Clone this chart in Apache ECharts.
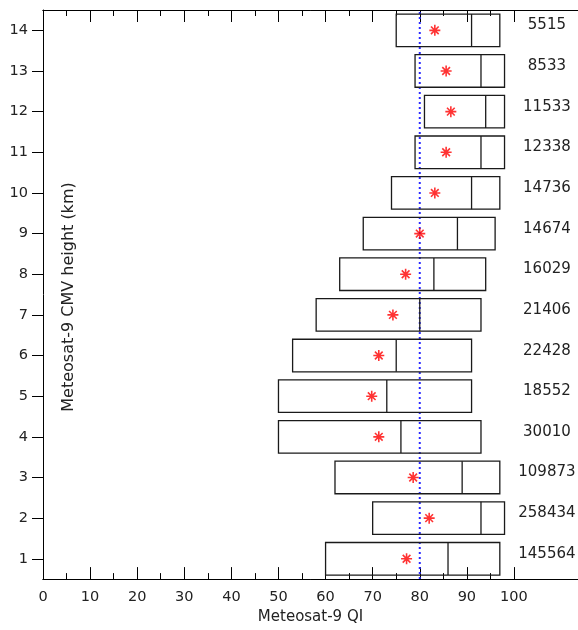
<!DOCTYPE html>
<html>
<head>
<meta charset="utf-8">
<script src="https://cdn.jsdelivr.net/npm/echarts@6/dist/echarts.min.js"></script>
<style>
html,body{margin:0;padding:0;background:#fff;}
#chart{width:578px;height:630px;}
</style>
</head>
<body>
<div id="chart"></div>
<script>
// ---- data ----
const heights   = [1, 2, 3, 4, 5, 6, 7, 8, 9, 10, 11, 12, 13, 14];
const boxLow    = [60, 70, 62, 50, 50, 53, 58, 63, 68, 74, 79, 81, 79, 75];
const boxMedian = [86, 93, 89, 76, 73, 75, 80, 83, 88, 91, 93, 94, 93, 91];
const boxHigh   = [97, 98, 97, 93, 91, 91, 93, 94, 96, 97, 98, 98, 98, 97];
const meanQI    = [77.2, 82, 78.6, 71.3, 69.8, 71.3, 74.3, 77, 80, 83.2, 85.6, 86.6, 85.6, 83.2];
const counts    = [145564, 258434, 109873, 30010, 18552, 22428, 21406, 16029, 14674, 14736, 12338, 11533, 8533, 5515];
const xMajorTicks = [0, 10, 20, 30, 40, 50, 60, 70, 80, 90, 100];
const xMinorTicks = [5, 15, 25, 35, 45, 55, 65, 75, 85, 95];
const yTicks      = [1, 2, 3, 4, 5, 6, 7, 8, 9, 10, 11, 12, 13, 14];
const refLineQI   = 80;

// ---- layout constants ----
const BOX_HALF = 0.4;
const COUNT_X = 107;
const X_MAX = 113.6;
const FONT = 'DejaVu Sans';
const INK = '#222';

const chart = echarts.init(document.getElementById('chart'), null, {renderer: 'canvas'});

function xAxisDef(pos, ticks, len, showLabel) {
  return {
    type: 'value', position: pos, min: 0, max: X_MAX,
    axisLine: {show: true, onZero: false, lineStyle: {color: '#000', width: 1}},
    axisTick: {show: true, inside: true, length: len, customValues: ticks, lineStyle: {color: '#000', width: 1}},
    axisLabel: showLabel ? {show: true, customValues: ticks, margin: 11, fontFamily: FONT, fontSize: 14.5, color: INK} : {show: false},
    splitLine: {show: false}
  };
}

const option = {
  animation: false,
  backgroundColor: '#fff',
  grid: {left: 43, top: 10, right: 0, bottom: 48.7, containLabel: false},
  xAxis: [
    Object.assign(xAxisDef('bottom', xMajorTicks, 12, true), {
      name: 'Meteosat-9 QI', nameLocation: 'middle', nameGap: 29,
      nameTextStyle: {fontFamily: FONT, fontSize: 15, color: INK}
    }),
    xAxisDef('bottom', xMinorTicks, 6, false),
    xAxisDef('top', xMajorTicks, 12, false),
    xAxisDef('top', xMinorTicks, 6, false)
  ],
  yAxis: [{
    type: 'value', min: 0.5, max: 14.5,
    axisLine: {show: true, onZero: false, lineStyle: {color: '#000', width: 1}},
    axisTick: {show: true, inside: false, length: 11, customValues: yTicks, lineStyle: {color: '#000', width: 1}},
    axisLabel: {show: true, customValues: yTicks, margin: 15, fontFamily: FONT, fontSize: 14.5, color: INK},
    splitLine: {show: false}
  }],
  graphic: [{
    type: 'text', x: 69, y: 297, rotation: Math.PI / 2,
    style: {text: 'Meteosat-9 CMV height (km)', fontFamily: FONT, fontSize: 16, fill: INK,
            align: 'center', verticalAlign: 'middle'}
  }],
  series: [
    {
      type: 'line', xAxisIndex: 0, yAxisIndex: 0, symbol: 'none', z: 1,
      data: [[refLineQI, 0.5], [refLineQI, 14.5]],
      lineStyle: {color: '#2a2aff', width: 2, type: [2, 3]}
    },
    {
      type: 'custom', xAxisIndex: 0, yAxisIndex: 0, z: 2,
      data: heights.map((h, i) => [h, boxLow[i], boxMedian[i], boxHigh[i]]),
      encode: {x: [1, 2, 3], y: 0},
      renderItem: function (params, api) {
        const y = api.value(0), lo = api.value(1), med = api.value(2), hi = api.value(3);
        const p1 = api.coord([lo, y + BOX_HALF]);
        const p2 = api.coord([hi, y - BOX_HALF]);
        const m1 = api.coord([med, y + BOX_HALF]);
        const m2 = api.coord([med, y - BOX_HALF]);
        return {
          type: 'group',
          children: [
            {type: 'rect', shape: {x: p1[0], y: p1[1], width: p2[0] - p1[0], height: p2[1] - p1[1]},
             style: {fill: 'none', stroke: '#1a1a1a', lineWidth: 1.3}},
            {type: 'line', shape: {x1: m1[0], y1: m1[1], x2: m2[0], y2: m2[1]},
             style: {stroke: '#1a1a1a', lineWidth: 1.3}}
          ]
        };
      }
    },
    {
      type: 'scatter', xAxisIndex: 0, yAxisIndex: 0, z: 3,
      data: heights.map((h, i) => [meanQI[i], h]),
      symbol: 'path://M6,0L6,12M0,6L12,6M1.8,1.8L10.2,10.2M1.8,10.2L10.2,1.8',
      symbolSize: 11,
      itemStyle: {color: 'none', borderColor: '#ff0000', borderWidth: 1.6}
    },
    {
      type: 'custom', xAxisIndex: 0, yAxisIndex: 0, z: 4,
      data: heights.map((h, i) => [h, counts[i]]),
      encode: {y: 0},
      renderItem: function (params, api) {
        const h = api.value(0);
        const p = api.coord([COUNT_X, h + 0.12]);
        return {
          type: 'text', x: p[0], y: p[1],
          style: {text: String(api.value(1)), fontFamily: FONT, fontSize: 15, fill: INK,
                  align: 'center', verticalAlign: 'middle'}
        };
      }
    }
  ]
};
chart.setOption(option);
</script>
</body>
</html>
